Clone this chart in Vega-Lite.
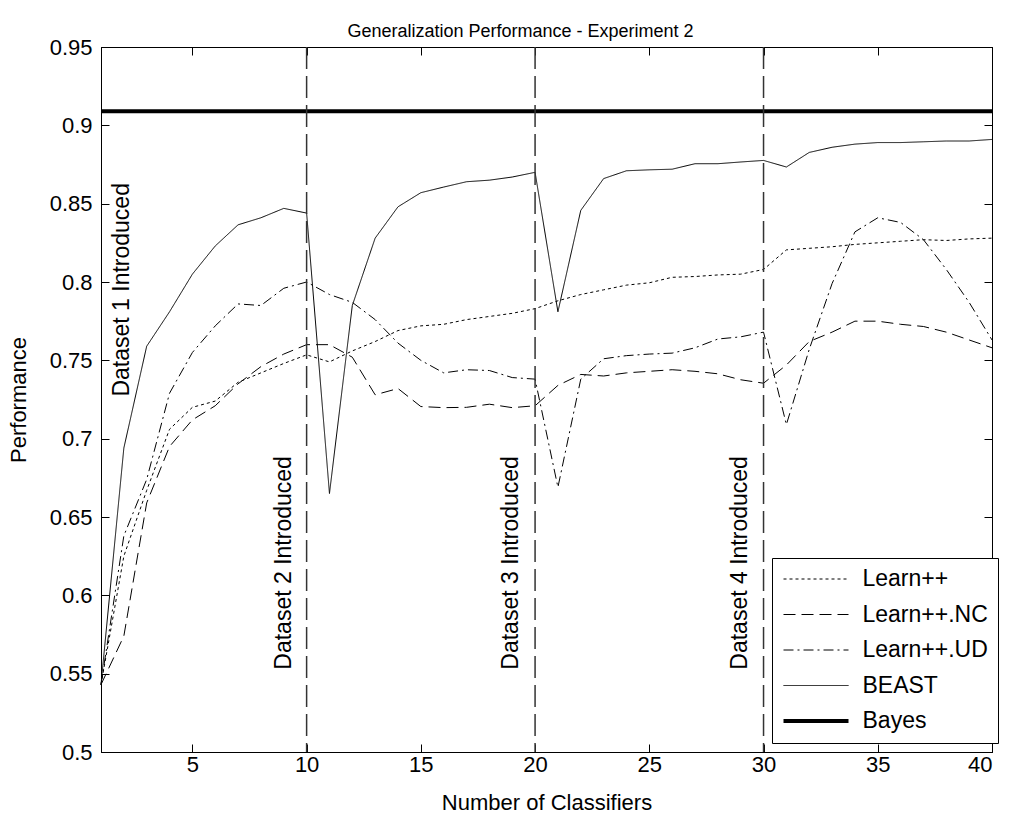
{
  "$schema": "https://vega.github.io/schema/vega-lite/v6.json",
  "width": 891,
  "height": 705,
  "autosize": {"type": "none"},
  "padding": {"left": 101, "top": 47, "right": 19, "bottom": 61},
  "background": "white",
  "config": {
    "font": "Liberation Sans",
    "view": {"stroke": "black", "strokeWidth": 1},
    "axis": {
      "grid": false,
      "domainColor": "black",
      "tickColor": "black",
      "labelColor": "black",
      "titleColor": "black",
      "labelFont": "Liberation Sans",
      "titleFont": "Liberation Sans",
      "labelFontSize": 22,
      "titleFontSize": 22,
      "titleFontWeight": "normal",
      "tickSize": -8
    },
    "legend": {
      "orient": "none",
      "legendX": 671,
      "legendY": 511,
      "padding": 9.5,
      "fillColor": "white",
      "strokeColor": "black",
      "labelFont": "Liberation Sans",
      "labelFontSize": 23,
      "labelColor": "black",
      "labelLimit": 0,
      "labelOffset": 12,
      "rowPadding": 11.5,
      "symbolType": "stroke",
      "symbolSize": 4225,
      "symbolStrokeColor": "black",
      "clipHeight": 23
    }
  },
  "title": {
    "text": "Generalization Performance - Experiment 2",
    "font": "Liberation Sans",
    "fontSize": 18,
    "fontWeight": "normal",
    "color": "black",
    "anchor": "middle",
    "dx": -26,
    "offset": -19,
    "baseline": "alphabetic"
  },
  "datasets": {
    "series": [
      {"n": 1, "perf": 0.543, "series": "Learn++"},
      {"n": 2, "perf": 0.625, "series": "Learn++"},
      {"n": 3, "perf": 0.667, "series": "Learn++"},
      {"n": 4, "perf": 0.706, "series": "Learn++"},
      {"n": 5, "perf": 0.72, "series": "Learn++"},
      {"n": 6, "perf": 0.724, "series": "Learn++"},
      {"n": 7, "perf": 0.736, "series": "Learn++"},
      {"n": 8, "perf": 0.742, "series": "Learn++"},
      {"n": 9, "perf": 0.748, "series": "Learn++"},
      {"n": 10, "perf": 0.7535, "series": "Learn++"},
      {"n": 11, "perf": 0.749, "series": "Learn++"},
      {"n": 12, "perf": 0.756, "series": "Learn++"},
      {"n": 13, "perf": 0.762, "series": "Learn++"},
      {"n": 14, "perf": 0.769, "series": "Learn++"},
      {"n": 15, "perf": 0.772, "series": "Learn++"},
      {"n": 16, "perf": 0.773, "series": "Learn++"},
      {"n": 17, "perf": 0.776, "series": "Learn++"},
      {"n": 18, "perf": 0.778, "series": "Learn++"},
      {"n": 19, "perf": 0.78, "series": "Learn++"},
      {"n": 20, "perf": 0.783, "series": "Learn++"},
      {"n": 21, "perf": 0.788, "series": "Learn++"},
      {"n": 22, "perf": 0.792, "series": "Learn++"},
      {"n": 23, "perf": 0.795, "series": "Learn++"},
      {"n": 24, "perf": 0.798, "series": "Learn++"},
      {"n": 25, "perf": 0.7995, "series": "Learn++"},
      {"n": 26, "perf": 0.803, "series": "Learn++"},
      {"n": 27, "perf": 0.8035, "series": "Learn++"},
      {"n": 28, "perf": 0.8045, "series": "Learn++"},
      {"n": 29, "perf": 0.805, "series": "Learn++"},
      {"n": 30, "perf": 0.808, "series": "Learn++"},
      {"n": 31, "perf": 0.8205, "series": "Learn++"},
      {"n": 32, "perf": 0.8215, "series": "Learn++"},
      {"n": 33, "perf": 0.8225, "series": "Learn++"},
      {"n": 34, "perf": 0.824, "series": "Learn++"},
      {"n": 35, "perf": 0.825, "series": "Learn++"},
      {"n": 36, "perf": 0.826, "series": "Learn++"},
      {"n": 37, "perf": 0.827, "series": "Learn++"},
      {"n": 38, "perf": 0.8265, "series": "Learn++"},
      {"n": 39, "perf": 0.8275, "series": "Learn++"},
      {"n": 40, "perf": 0.828, "series": "Learn++"},
      {"n": 1, "perf": 0.543, "series": "Learn++.NC"},
      {"n": 2, "perf": 0.574, "series": "Learn++.NC"},
      {"n": 3, "perf": 0.659, "series": "Learn++.NC"},
      {"n": 4, "perf": 0.695, "series": "Learn++.NC"},
      {"n": 5, "perf": 0.712, "series": "Learn++.NC"},
      {"n": 6, "perf": 0.721, "series": "Learn++.NC"},
      {"n": 7, "perf": 0.735, "series": "Learn++.NC"},
      {"n": 8, "perf": 0.746, "series": "Learn++.NC"},
      {"n": 9, "perf": 0.754, "series": "Learn++.NC"},
      {"n": 10, "perf": 0.76, "series": "Learn++.NC"},
      {"n": 11, "perf": 0.76, "series": "Learn++.NC"},
      {"n": 12, "perf": 0.752, "series": "Learn++.NC"},
      {"n": 13, "perf": 0.728, "series": "Learn++.NC"},
      {"n": 14, "perf": 0.732, "series": "Learn++.NC"},
      {"n": 15, "perf": 0.7205, "series": "Learn++.NC"},
      {"n": 16, "perf": 0.7198, "series": "Learn++.NC"},
      {"n": 17, "perf": 0.72, "series": "Learn++.NC"},
      {"n": 18, "perf": 0.722, "series": "Learn++.NC"},
      {"n": 19, "perf": 0.7198, "series": "Learn++.NC"},
      {"n": 20, "perf": 0.721, "series": "Learn++.NC"},
      {"n": 21, "perf": 0.734, "series": "Learn++.NC"},
      {"n": 22, "perf": 0.741, "series": "Learn++.NC"},
      {"n": 23, "perf": 0.74, "series": "Learn++.NC"},
      {"n": 24, "perf": 0.742, "series": "Learn++.NC"},
      {"n": 25, "perf": 0.743, "series": "Learn++.NC"},
      {"n": 26, "perf": 0.744, "series": "Learn++.NC"},
      {"n": 27, "perf": 0.743, "series": "Learn++.NC"},
      {"n": 28, "perf": 0.7414, "series": "Learn++.NC"},
      {"n": 29, "perf": 0.7376, "series": "Learn++.NC"},
      {"n": 30, "perf": 0.7354, "series": "Learn++.NC"},
      {"n": 31, "perf": 0.747, "series": "Learn++.NC"},
      {"n": 32, "perf": 0.762, "series": "Learn++.NC"},
      {"n": 33, "perf": 0.768, "series": "Learn++.NC"},
      {"n": 34, "perf": 0.775, "series": "Learn++.NC"},
      {"n": 35, "perf": 0.775, "series": "Learn++.NC"},
      {"n": 36, "perf": 0.773, "series": "Learn++.NC"},
      {"n": 37, "perf": 0.7716, "series": "Learn++.NC"},
      {"n": 38, "perf": 0.768, "series": "Learn++.NC"},
      {"n": 39, "perf": 0.763, "series": "Learn++.NC"},
      {"n": 40, "perf": 0.758, "series": "Learn++.NC"},
      {"n": 1, "perf": 0.543, "series": "Learn++.UD"},
      {"n": 2, "perf": 0.638, "series": "Learn++.UD"},
      {"n": 3, "perf": 0.674, "series": "Learn++.UD"},
      {"n": 4, "perf": 0.729, "series": "Learn++.UD"},
      {"n": 5, "perf": 0.755, "series": "Learn++.UD"},
      {"n": 6, "perf": 0.772, "series": "Learn++.UD"},
      {"n": 7, "perf": 0.786, "series": "Learn++.UD"},
      {"n": 8, "perf": 0.785, "series": "Learn++.UD"},
      {"n": 9, "perf": 0.796, "series": "Learn++.UD"},
      {"n": 10, "perf": 0.8, "series": "Learn++.UD"},
      {"n": 11, "perf": 0.792, "series": "Learn++.UD"},
      {"n": 12, "perf": 0.787, "series": "Learn++.UD"},
      {"n": 13, "perf": 0.776, "series": "Learn++.UD"},
      {"n": 14, "perf": 0.761, "series": "Learn++.UD"},
      {"n": 15, "perf": 0.75, "series": "Learn++.UD"},
      {"n": 16, "perf": 0.742, "series": "Learn++.UD"},
      {"n": 17, "perf": 0.744, "series": "Learn++.UD"},
      {"n": 18, "perf": 0.7435, "series": "Learn++.UD"},
      {"n": 19, "perf": 0.739, "series": "Learn++.UD"},
      {"n": 20, "perf": 0.738, "series": "Learn++.UD"},
      {"n": 21, "perf": 0.669, "series": "Learn++.UD"},
      {"n": 22, "perf": 0.738, "series": "Learn++.UD"},
      {"n": 23, "perf": 0.751, "series": "Learn++.UD"},
      {"n": 24, "perf": 0.753, "series": "Learn++.UD"},
      {"n": 25, "perf": 0.754, "series": "Learn++.UD"},
      {"n": 26, "perf": 0.7546, "series": "Learn++.UD"},
      {"n": 27, "perf": 0.758, "series": "Learn++.UD"},
      {"n": 28, "perf": 0.7636, "series": "Learn++.UD"},
      {"n": 29, "perf": 0.765, "series": "Learn++.UD"},
      {"n": 30, "perf": 0.768, "series": "Learn++.UD"},
      {"n": 31, "perf": 0.709, "series": "Learn++.UD"},
      {"n": 32, "perf": 0.757, "series": "Learn++.UD"},
      {"n": 33, "perf": 0.799, "series": "Learn++.UD"},
      {"n": 34, "perf": 0.832, "series": "Learn++.UD"},
      {"n": 35, "perf": 0.841, "series": "Learn++.UD"},
      {"n": 36, "perf": 0.838, "series": "Learn++.UD"},
      {"n": 37, "perf": 0.827, "series": "Learn++.UD"},
      {"n": 38, "perf": 0.808, "series": "Learn++.UD"},
      {"n": 39, "perf": 0.787, "series": "Learn++.UD"},
      {"n": 40, "perf": 0.763, "series": "Learn++.UD"},
      {"n": 1, "perf": 0.543, "series": "BEAST"},
      {"n": 2, "perf": 0.694, "series": "BEAST"},
      {"n": 3, "perf": 0.759, "series": "BEAST"},
      {"n": 4, "perf": 0.781, "series": "BEAST"},
      {"n": 5, "perf": 0.805, "series": "BEAST"},
      {"n": 6, "perf": 0.823, "series": "BEAST"},
      {"n": 7, "perf": 0.8365, "series": "BEAST"},
      {"n": 8, "perf": 0.841, "series": "BEAST"},
      {"n": 9, "perf": 0.847, "series": "BEAST"},
      {"n": 10, "perf": 0.844, "series": "BEAST"},
      {"n": 11, "perf": 0.665, "series": "BEAST"},
      {"n": 12, "perf": 0.785, "series": "BEAST"},
      {"n": 13, "perf": 0.828, "series": "BEAST"},
      {"n": 14, "perf": 0.848, "series": "BEAST"},
      {"n": 15, "perf": 0.857, "series": "BEAST"},
      {"n": 16, "perf": 0.8606, "series": "BEAST"},
      {"n": 17, "perf": 0.864, "series": "BEAST"},
      {"n": 18, "perf": 0.865, "series": "BEAST"},
      {"n": 19, "perf": 0.867, "series": "BEAST"},
      {"n": 20, "perf": 0.87, "series": "BEAST"},
      {"n": 21, "perf": 0.781, "series": "BEAST"},
      {"n": 22, "perf": 0.8457, "series": "BEAST"},
      {"n": 23, "perf": 0.866, "series": "BEAST"},
      {"n": 24, "perf": 0.871, "series": "BEAST"},
      {"n": 25, "perf": 0.8716, "series": "BEAST"},
      {"n": 26, "perf": 0.872, "series": "BEAST"},
      {"n": 27, "perf": 0.8755, "series": "BEAST"},
      {"n": 28, "perf": 0.8755, "series": "BEAST"},
      {"n": 29, "perf": 0.8766, "series": "BEAST"},
      {"n": 30, "perf": 0.8776, "series": "BEAST"},
      {"n": 31, "perf": 0.8734, "series": "BEAST"},
      {"n": 32, "perf": 0.8827, "series": "BEAST"},
      {"n": 33, "perf": 0.886, "series": "BEAST"},
      {"n": 34, "perf": 0.888, "series": "BEAST"},
      {"n": 35, "perf": 0.889, "series": "BEAST"},
      {"n": 36, "perf": 0.889, "series": "BEAST"},
      {"n": 37, "perf": 0.8895, "series": "BEAST"},
      {"n": 38, "perf": 0.89, "series": "BEAST"},
      {"n": 39, "perf": 0.89, "series": "BEAST"},
      {"n": 40, "perf": 0.891, "series": "BEAST"},
      {"n": 1, "perf": 0.909, "series": "Bayes"},
      {"n": 40, "perf": 0.909, "series": "Bayes"}
    ],
    "markers": [
      {"n": 10},
      {"n": 20},
      {"n": 30}
    ],
    "notes": [
      {"n": 1.92, "perf": 0.795, "label": "Dataset 1 Introduced"},
      {"n": 9.0, "perf": 0.6207, "label": "Dataset 2 Introduced"},
      {"n": 18.95, "perf": 0.6207, "label": "Dataset 3 Introduced"},
      {"n": 28.95, "perf": 0.6207, "label": "Dataset 4 Introduced"}
    ]
  },
  "resolve": {"axis": {"x": "independent", "y": "independent"}},
  "layer": [
    {
      "data": {"name": "series"},
      "mark": {"type": "line", "stroke": "black", "strokeCap": "butt"},
      "encoding": {
        "x": {
          "field": "n",
          "type": "quantitative",
          "scale": {"domain": [1, 40], "nice": false, "zero": false},
          "axis": {
            "orient": "bottom",
            "values": [5, 10, 15, 20, 25, 30, 35, 40],
            "title": "Number of Classifiers",
            "labelPadding": 10,
            "titleY": 57,
            "titleBaseline": "alphabetic"
          }
        },
        "y": {
          "field": "perf",
          "type": "quantitative",
          "scale": {"domain": [0.5, 0.95], "nice": false, "zero": false},
          "axis": {
            "orient": "left",
            "values": [0.5, 0.55, 0.6, 0.65, 0.7, 0.75, 0.8, 0.85, 0.9, 0.95],
            "format": ".2~f",
            "title": "Performance",
            "labelPadding": 17,
            "titleX": -76,
            "titleBaseline": "alphabetic"
          }
        },
        "strokeDash": {
          "field": "series",
          "type": "ordinal",
          "sort": ["Learn++", "Learn++.NC", "Learn++.UD", "BEAST", "Bayes"],
          "scale": {
            "domain": ["Learn++", "Learn++.NC", "Learn++.UD", "BEAST", "Bayes"],
            "range": [[3, 3], [12, 6], [10, 4, 2, 4], [1, 0], [1, 0]]
          },
          "legend": {"title": null}
        },
        "strokeWidth": {
          "field": "series",
          "type": "ordinal",
          "sort": ["Learn++", "Learn++.NC", "Learn++.UD", "BEAST", "Bayes"],
          "scale": {
            "type": "ordinal",
            "domain": ["Learn++", "Learn++.NC", "Learn++.UD", "BEAST", "Bayes"],
            "range": [1, 1, 1, 1, 4]
          },
          "legend": {"title": null}
        }
      }
    },
    {
      "data": {"name": "markers"},
      "mark": {"type": "rule", "stroke": "#333333", "strokeWidth": 1.5, "strokeDash": [22, 7]},
      "encoding": {
        "x": {"field": "n", "type": "quantitative", "axis": null}
      }
    },
    {
      "data": {"name": "notes"},
      "mark": {
        "type": "text",
        "angle": 270,
        "align": "center",
        "baseline": "middle",
        "font": "Liberation Sans",
        "fontSize": 23,
        "color": "black"
      },
      "encoding": {
        "x": {"field": "n", "type": "quantitative", "axis": null},
        "y": {"field": "perf", "type": "quantitative", "axis": null},
        "text": {"field": "label"}
      }
    },
    {
      "data": {"name": "series"},
      "mark": {"type": "point", "opacity": 0},
      "encoding": {
        "x": {
          "field": "n",
          "type": "quantitative",
          "axis": {
            "orient": "top",
            "values": [5, 10, 15, 20, 25, 30, 35, 40],
            "labels": false,
            "title": null
          }
        },
        "y": {
          "field": "perf",
          "type": "quantitative",
          "axis": {
            "orient": "right",
            "values": [0.5, 0.55, 0.6, 0.65, 0.7, 0.75, 0.8, 0.85, 0.9, 0.95],
            "labels": false,
            "title": null
          }
        }
      }
    }
  ]
}
